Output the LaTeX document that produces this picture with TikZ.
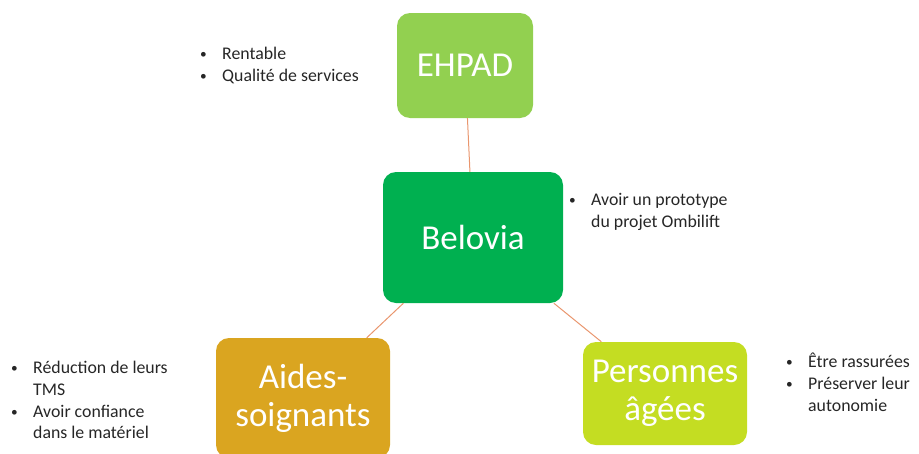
\documentclass[tikz,border=0pt]{standalone}
\usepackage{fontspec}
\setmainfont{Carlito}
\definecolor{ehpadc}{HTML}{92D050}
\definecolor{beloviac}{HTML}{00B050}
\definecolor{aidesc}{HTML}{DAA520}
\definecolor{persc}{HTML}{C4DD22}
\definecolor{linkc}{HTML}{E9966E}
\tikzset{
  boxnode/.style={rounded corners=13pt, align=center, text=white, inner sep=0pt,
    font=\fontsize{35}{38}\selectfont},
  listnode/.style={anchor=north west, inner sep=0pt, text=black!85,
    font=\fontsize{17.8}{21.7}\selectfont},
  link/.style={draw=linkc, line width=1pt}
}
\newcommand{\bul}{\makebox[24pt][l]{\hspace{2pt}\raisebox{0.12ex}{\scalebox{0.75}{\textbullet}}}}
\begin{document}
\begin{tikzpicture}[x=1pt,y=-1pt]
\useasboundingbox (0,0) rectangle (919,453);
\clip (0,0) rectangle (919,453);
\node[boxnode, fill=ehpadc, minimum width=136pt, minimum height=105pt] (ehpad) at (465,65.5) {EHPAD};
\node[boxnode, fill=beloviac, minimum width=180pt, minimum height=131pt] (belovia) at (473,237.5) {Belovia};
\node[boxnode, fill=aidesc, minimum width=174pt, minimum height=120pt] (aides) at (303,398) {Aides-\\soignants};
\node[boxnode, fill=persc, minimum width=164pt, minimum height=103pt] (pers) at (665,393.5) {Personnes\\âgées};
\draw[link] (ehpad) -- (belovia);
\draw[link] (belovia) -- (aides);
\draw[link] (belovia) -- (pers);
\node[listnode] (l1) at (198,44.5) {\begin{tabular}{@{}l@{}l@{}}\bul & Rentable\\ \bul & Qualité de services\end{tabular}};
\node[listnode] (l2) at (567,190) {\begin{tabular}{@{}l@{}l@{}}\bul & Avoir un prototype\\ & du projet Ombilift\end{tabular}};
\node[listnode] (l3) at (9,358.5) {\begin{tabular}{@{}l@{}l@{}}\bul & Réduction de leurs\\ & TMS\\ \bul & Avoir confiance\\ & dans le matériel\end{tabular}};
\node[listnode] (l4) at (784,352.5) {\begin{tabular}{@{}l@{}l@{}}\bul & Être rassurées\\ \bul & Préserver leur\\ & autonomie\end{tabular}};
\end{tikzpicture}
\end{document}
